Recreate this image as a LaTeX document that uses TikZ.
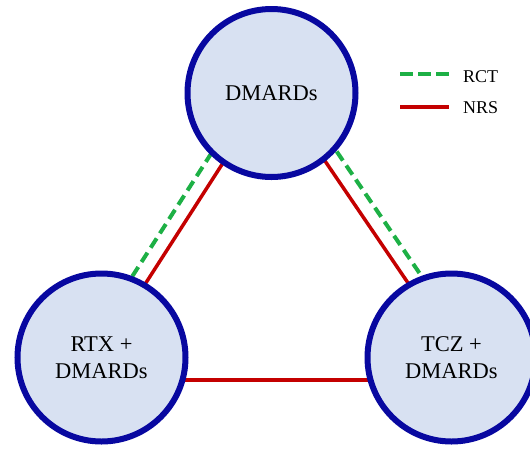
\documentclass[tikz,border=0pt]{standalone}
\usepackage{fontspec}
\setmainfont{Liberation Serif}
\usetikzlibrary{calc,backgrounds}
\definecolor{ringblue}{HTML}{0808A0}
\definecolor{fillblue}{HTML}{D8E1F2}
\definecolor{rctgreen}{HTML}{1DB045}
\definecolor{nrsred}{HTML}{C40000}
\tikzset{
  arm/.style={circle, draw=ringblue, fill=fillblue, line width=6pt, minimum size=168pt, inner sep=0pt, align=center, font=\fontsize{22.5}{27}\selectfont},
  rct/.style={draw=rctgreen, line width=4pt, dash pattern=on 11pt off 6pt},
  nrs/.style={draw=nrsred, line width=3.5pt},
  legtext/.style={anchor=west, inner sep=0pt, font=\fontsize{18}{21}\selectfont}
}
\begin{document}
\begin{tikzpicture}[x=1pt,y=-1pt]
\useasboundingbox (0,0) rectangle (530,448);
\node[arm] (T) at (271.5,93) {DMARDs};
\node[arm] (L) at (101.5,357.5) {RTX +\\DMARDs};
\node[arm] (R) at (451.5,357.5) {TCZ +\\DMARDs};
\begin{scope}[on background layer]
  \draw[rct] ($(L)!18pt!90:(T)$) -- ($(T)!18pt!-90:(L)$);
  \draw[nrs] ($(L)!3pt!90:(T)$) -- ($(T)!3pt!-90:(L)$);
  \draw[rct] ($(T)!21pt!90:(R)$) -- ($(R)!21pt!-90:(T)$);
  \draw[nrs] ($(T)!6pt!90:(R)$) -- ($(R)!6pt!-90:(T)$);
  \draw[nrs] ($(L)!22.5pt!-90:(R)$) -- ($(R)!22.5pt!90:(L)$);
\end{scope}
\coordinate (g1) at (400,74);
\coordinate (g2) at (449,74);
\coordinate (r1) at (400,107);
\coordinate (r2) at (449,107);
\draw[rct, dash pattern=on 13pt off 5pt] (g1) -- (g2);
\draw[nrs] (r1) -- (r2);
\node[legtext, anchor=base west] (lrct) at (463,82) {RCT};
\node[legtext, anchor=base west] (lnrs) at (463,113) {NRS};
\end{tikzpicture}
\end{document}
